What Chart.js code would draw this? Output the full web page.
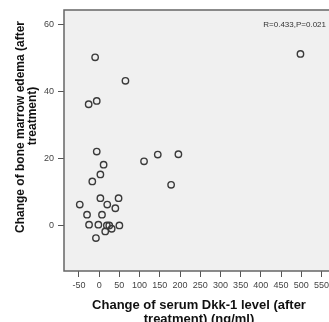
<!DOCTYPE html>
<html>
<head>
<meta charset="utf-8">
<script src="https://cdn.jsdelivr.net/npm/chart.js@4"></script>
<style>
  html, body { margin: 0; padding: 0; background: #fff; overflow: hidden; }
  #wrap { width: 345px; height: 335px; position: relative; }
</style>
</head>
<body>
<div id="wrap"><canvas id="scatter"></canvas></div>
<script>
// change of serum Dkk-1 (ng/ml) vs change of bone marrow edema
const dkkChange = [-10, 65, -26, -6, 498, 196, 178, -6, 11, 3, -17, 111, 145, -48,
  3, 48, 20, 40, -30, 7, -25, -2, 19, 25, 50, 15, 31, -8];
const edemaChange = [50.1, 43.1, 36.1, 37.1, 51.1, 21.2, 12.1, 22.0, 18.1, 15.2, 13.1, 19.1, 21.1, 6.2,
  8.1, 8.1, 6.2, 5.1, 3.2, 3.2, 0.2, 0.2, 0, 0, 0, -1.8, -1, -3.8];

const xTicks = [-50, 0, 50, 100, 150, 200, 250, 300, 350, 400, 450, 500, 550];
const yTicks = [0, 20, 40, 60];

const xTitle = ["Change of serum Dkk-1 level (after", "treatment) (ng/ml)"];
const yTitle = ["Change of bone marrow edema (after", "treatment)"];
const statText = "R=0.433,P=0.021";

const points = dkkChange.map((x, i) => ({ x, y: edemaChange[i] }));

// grey plot panel with frame, plus the stats label and y title
const panel = {
  id: "panel",
  beforeDraw(chart) {
    const { ctx, chartArea: a } = chart;
    ctx.save();
    ctx.fillStyle = "#f0f0f0";
    ctx.fillRect(a.left, a.top, a.right - a.left, a.bottom - a.top);
    ctx.restore();
  },
  afterDraw(chart) {
    const { ctx, chartArea: a } = chart;
    ctx.save();
    ctx.strokeStyle = "#666";
    ctx.lineWidth = 1.5;
    ctx.strokeRect(a.left, a.top, a.right - a.left, a.bottom - a.top);

    ctx.fillStyle = "#333";
    ctx.font = "8px 'Liberation Sans', Arial, sans-serif";
    ctx.textAlign = "right";
    ctx.textBaseline = "middle";
    ctx.fillText(statText, 326, 25);

    ctx.fillStyle = "#111";
    ctx.font = "bold 12px 'Liberation Sans', Arial, sans-serif";
    ctx.textAlign = "center";
    ctx.translate(21, 127);
    ctx.rotate(-Math.PI / 2);
    ctx.fillText(yTitle[0], 0, 0);
    ctx.fillText(yTitle[1], 11, 12);
    ctx.restore();
  }
};

new Chart(document.getElementById("scatter"), {
  type: "scatter",
  data: {
    datasets: [{
      data: points,
      pointStyle: "circle",
      pointRadius: 3.2,
      pointBorderWidth: 1.4,
      pointBorderColor: "#3a3a3a",
      pointBackgroundColor: "rgba(0,0,0,0)"
    }]
  },
  options: {
    responsive: true,
    maintainAspectRatio: false,
    animation: false,
    events: [],
    layout: { padding: { top: 10, right: 11, left: 0, bottom: 0 } },
    plugins: { legend: { display: false }, tooltip: { enabled: false } },
    scales: {
      x: {
        type: "linear",
        min: -87,
        max: 581,
        afterFit: s => { s.height = 64; },
        afterBuildTicks: s => { s.ticks = xTicks.map(v => ({ value: v })); },
        border: { display: false },
        grid: { drawOnChartArea: false, drawTicks: true, tickLength: 6, color: "#555" },
        ticks: {
          autoSkip: false,
          maxRotation: 0,
          padding: 3,
          color: "#444",
          font: { family: "'Liberation Sans', Arial, sans-serif", size: 9 }
        },
        title: {
          display: true,
          text: xTitle,
          color: "#111",
          padding: { top: 0, bottom: 9 },
          font: { family: "'Liberation Sans', Arial, sans-serif", size: 13, weight: "bold", lineHeight: "14px" }
        }
      },
      y: {
        type: "linear",
        min: -13.6,
        max: 64.2,
        afterFit: s => { s.width = 64; },
        afterBuildTicks: s => { s.ticks = yTicks.map(v => ({ value: v })); },
        border: { display: false },
        grid: { drawOnChartArea: false, drawTicks: true, tickLength: 6, color: "#555" },
        ticks: {
          padding: 4,
          color: "#444",
          font: { family: "'Liberation Sans', Arial, sans-serif", size: 9 }
        }
      }
    }
  },
  plugins: [panel]
});
</script>
</body>
</html>
